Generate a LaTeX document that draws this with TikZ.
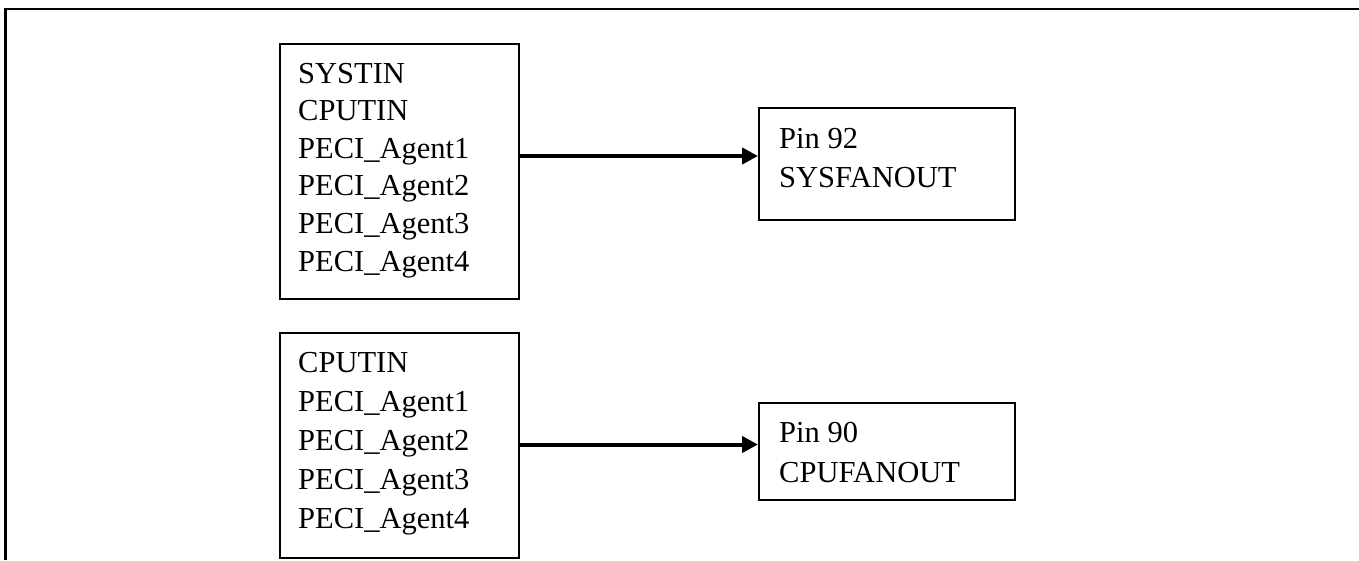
\documentclass[tikz,border=0pt]{standalone}
\usepackage{fontspec}
\setmainfont{Liberation Serif}
\usetikzlibrary{arrows.meta,calc}

\begin{document}
\begin{tikzpicture}[x=1pt,y=-1pt,
    blk/.style={draw,line width=2pt,minimum width=239pt,anchor=north west,inner sep=0pt},
    txt/.style={anchor=base west,inner sep=0pt,font=\fontsize{30.5}{36}\selectfont},
    conn/.style={line width=4pt,-{Triangle[length=16pt,width=16pt]}}]
  \useasboundingbox (0,0) rectangle (1359,560);
  % frame
  \draw[line width=2.8pt] (5.5,560) -- (5.5,9) -- (1359,9);
  % sources
  \node[blk,minimum height=255pt] (in1) at (279,43) {};
  \node[blk,minimum height=225pt] (in2) at (279,332) {};
  % fan outputs
  \node[blk,minimum width=256pt,minimum height=112pt] (out1) at (758,107) {};
  \node[blk,minimum width=256pt,minimum height=97pt]  (out2) at (758,402) {};
  \foreach \t [count=\i] in {SYSTIN,CPUTIN,PECI\_Agent1,PECI\_Agent2,PECI\_Agent3,PECI\_Agent4}
    \node[txt] at ($(in1.north west)+(19,40+37.6*\i-37.6)$) {\t};
  \foreach \t [count=\i] in {CPUTIN,PECI\_Agent1,PECI\_Agent2,PECI\_Agent3,PECI\_Agent4}
    \node[txt] at ($(in2.north west)+(19,40+39*\i-39)$) {\t};
  \node[txt] (p92) at ($(out1.north west)+(21,41)$) {Pin 92};
  \node[txt] at ($(p92.base west)+(0,39)$) {SYSFANOUT};
  \node[txt] (p90) at ($(out2.north west)+(21,40)$) {Pin 90};
  \node[txt] at ($(p90.base west)+(0,40)$) {CPUFANOUT};
  % connectors
  \coordinate (tip1) at ([yshift=8pt]out1.west);
  \coordinate (tip2) at ([yshift=7pt]out2.west);
  \draw[conn] (in1.east |- tip1) -- (tip1);
  \draw[conn] (in2.east |- tip2) -- (tip2);
\end{tikzpicture}
\end{document}
